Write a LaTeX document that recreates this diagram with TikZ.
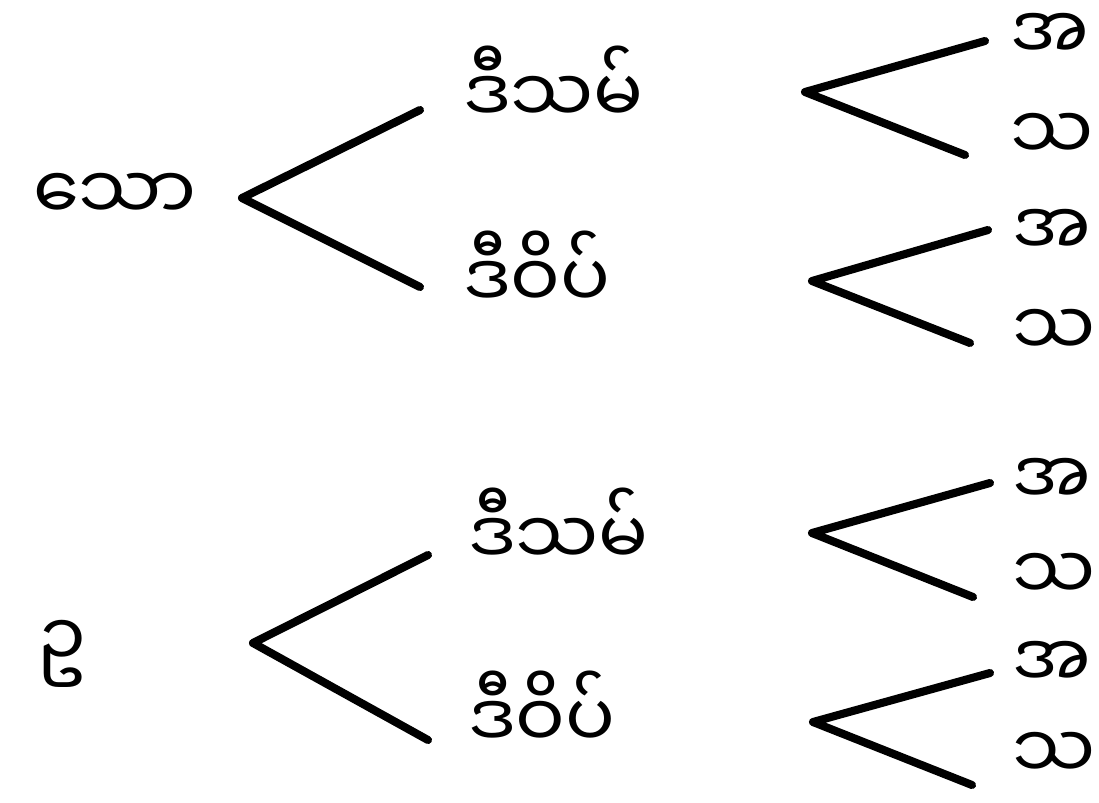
\documentclass[tikz,border=0pt]{standalone}
\usepackage{fontspec}
\newfontfamily\mmfont[Script=Myanmar]{Noto Sans Myanmar UI}
\usetikzlibrary{positioning,calc}
\tikzset{%
  word/.style={font=\mmfont\fontsize{42}{50}\selectfont,inner sep=0pt,anchor=base west},
  leaf/.style={word},
  branch/.style={line width=4.6pt,line cap=round,line join=round}%
}

\begin{document}
\begin{tikzpicture}[x=0.02cm,y=-0.02cm]

\useasboundingbox (0,0) rectangle (1099,802);

% First tree
\node[word] (sho) at (33,220) {သော};
\node[word] (dsm1) at (463,123) {ဒီသမ်};
\node[word] (dwp1) at (463,308) {ဒီဝိပ်};
\node[leaf] (a1) at (1010,60) {အ};
\node[leaf] (s1) at (1010,160) {သ};
\node[leaf] (a2) at (1012,256) {အ};
\node[leaf] (s2) at (1012,356) {သ};

\coordinate (fk1) at (242,198);
\coordinate (fk2) at (805,92);
\coordinate (fk3) at (812,281);

\draw[branch] ($(dsm1.base west)+(-43,-13)$) -- (fk1) -- ($(dwp1.base west)+(-43,-21)$);
\draw[branch] ($(a1.base west)+(-25,-19)$) -- (fk2) -- ($(s1.base west)+(-45,-5)$);
\draw[branch] ($(a2.base west)+(-24,-26)$) -- (fk3) -- ($(s2.base west)+(-42,-13)$);

% Second tree
\node[word] (u) at (37,667) {ဥ};
\node[word] (dsm2) at (468,565) {ဒီသမ်};
\node[word] (dwp2) at (468,748) {ဒီဝိပ်};
\node[leaf] (a3) at (1012,505) {အ};
\node[leaf] (s3) at (1012,600) {သ};
\node[leaf] (a4) at (1012,688) {အ};
\node[leaf] (s4) at (1012,779) {သ};

\coordinate (fk4) at (253,643);
\coordinate (fk5) at (812,533);
\coordinate (fk6) at (813,722);

\draw[branch] ($(dsm2.base west)+(-40,-10)$) -- (fk4) -- ($(dwp2.base west)+(-40,-8)$);
\draw[branch] ($(a3.base west)+(-22,-22)$) -- (fk5) -- ($(s3.base west)+(-39,-3)$);
\draw[branch] ($(a4.base west)+(-22,-15)$) -- (fk6) -- ($(s4.base west)+(-40,6)$);

\end{tikzpicture}
\end{document}
